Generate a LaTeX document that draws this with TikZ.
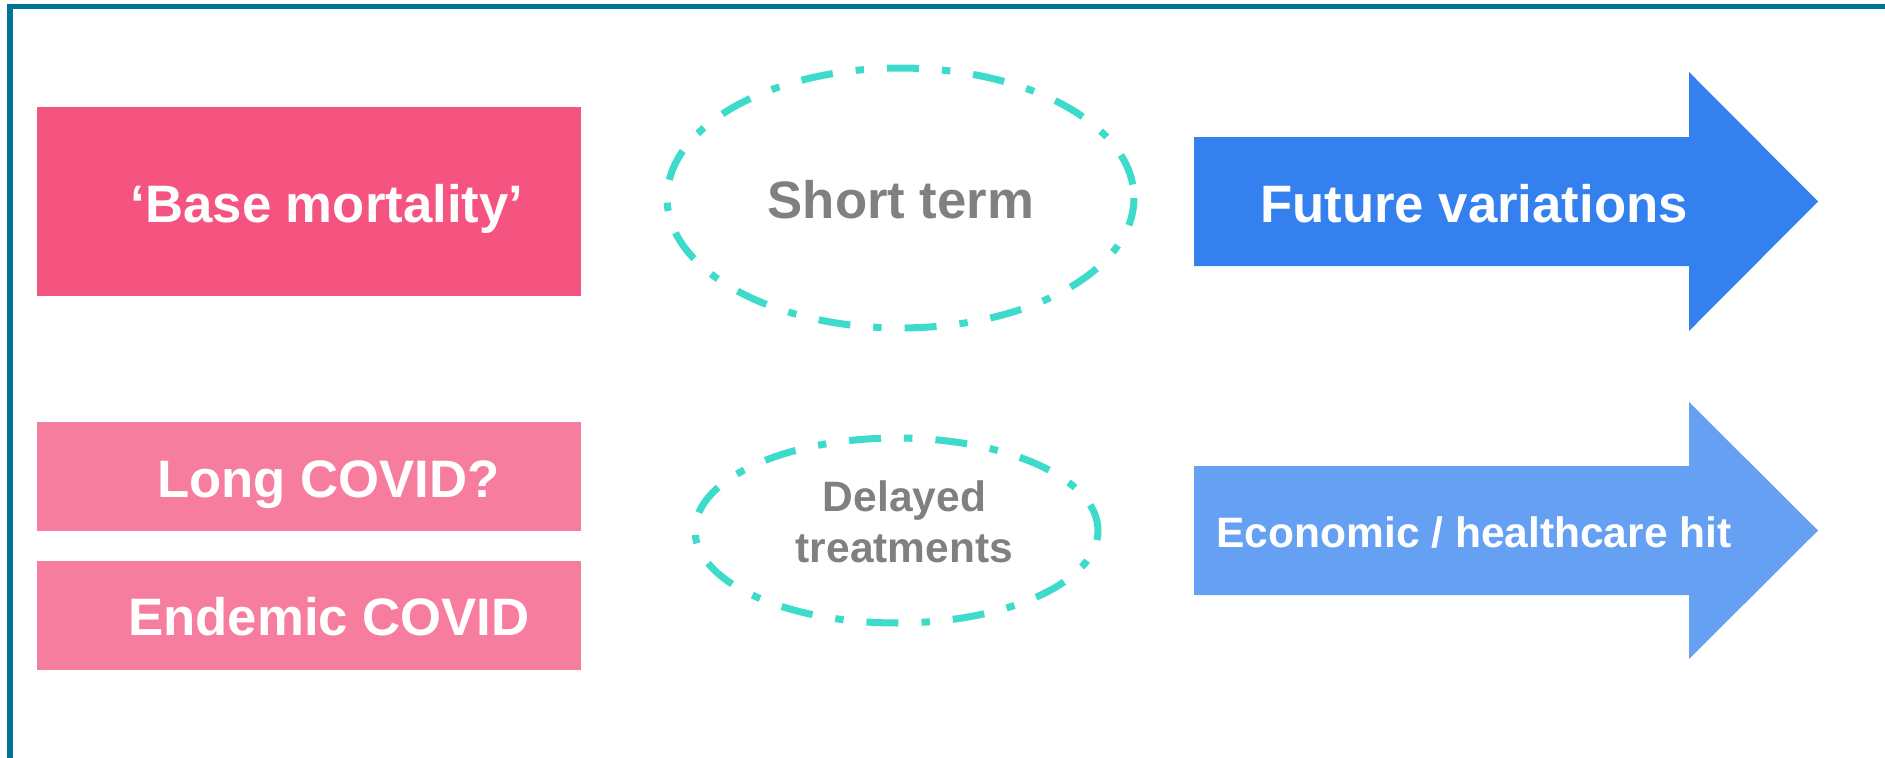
\documentclass[tikz,border=0pt]{standalone}
\usepackage{fontspec}
\setmainfont{Liberation Sans}
\usetikzlibrary{shapes.geometric}

\definecolor{frameteal}{RGB}{0,116,148}
\definecolor{basepink}{RGB}{246,84,128}
\definecolor{lightpink}{RGB}{247,125,158}
\definecolor{deepblue}{RGB}{51,128,238}
\definecolor{softblue}{RGB}{102,160,242}
\definecolor{mint}{RGB}{61,219,203}
\definecolor{labelgrey}{RGB}{128,128,128}

\begin{document}
\begin{tikzpicture}[x=0.02cm, y=-0.02cm,
  box/.style={rectangle, inner sep=0pt, minimum width=10.88cm},
  bigtext/.style={font=\bfseries\fontsize{30}{36}\selectfont, inner sep=0pt, anchor=base},
  smalltext/.style={font=\bfseries\fontsize{24.2}{29}\selectfont, inner sep=0pt},
  ring/.style={ellipse, draw=mint, line width=4pt, inner sep=0pt,
    dash pattern=on 18.2pt off 13.1pt on 4.8pt off 13.1pt}]

% page extent
\useasboundingbox (0,0) rectangle (1885,757);

% frame: only the top and left edges fall inside the page
\begin{scope}
  \clip (0,0) rectangle (1885,757);
  \draw[frameteal, line width=2.85pt] (10,800) -- (10,6.5) -- (1900,6.5);
\end{scope}

% left-hand blocks
\node[box, fill=basepink, minimum height=3.78cm] (base) at (309,201.5) {};
\node[bigtext, text=white] (baset) at (327,222) {‘Base mortality’};

\node[box, fill=lightpink, minimum height=2.18cm] (long) at (309,476.5) {};
\node[bigtext, text=white] (longt) at (328.5,497) {Long COVID?};

\node[box, fill=lightpink, minimum height=2.18cm] (endemic) at (309,615.5) {};
\node[bigtext, text=white] (endemict) at (329,635) {Endemic COVID};

% dash-dotted ellipses
\node[ring, minimum width=9.34cm, minimum height=5.2cm, dash phase=41.5pt] (short) at (900.5,198) {};
\node[bigtext, text=labelgrey] (shortt) at (901,218) {Short term};

\node[ring, minimum width=8.06cm, minimum height=3.7cm, dash phase=2.8pt] (delayed) at (896.5,530.5) {};
\node[smalltext, text=labelgrey, align=center] (delayedt) at (904.5,522) {Delayed\\treatments};

% block arrows
\fill[deepblue] (1194,137) -- (1689,137) -- (1689,72) -- (1818,201.5)
  -- (1689,331) -- (1689,266) -- (1194,266) -- cycle;
\node[bigtext, text=white] (future) at (1474,222) {Future variations};

\fill[softblue] (1194,466) -- (1689,466) -- (1689,402) -- (1818,530.5)
  -- (1689,659) -- (1689,595) -- (1194,595) -- cycle;
\node[smalltext, text=white, anchor=base] (econ) at (1474,547) {Economic / healthcare hit};

\end{tikzpicture}
\end{document}
